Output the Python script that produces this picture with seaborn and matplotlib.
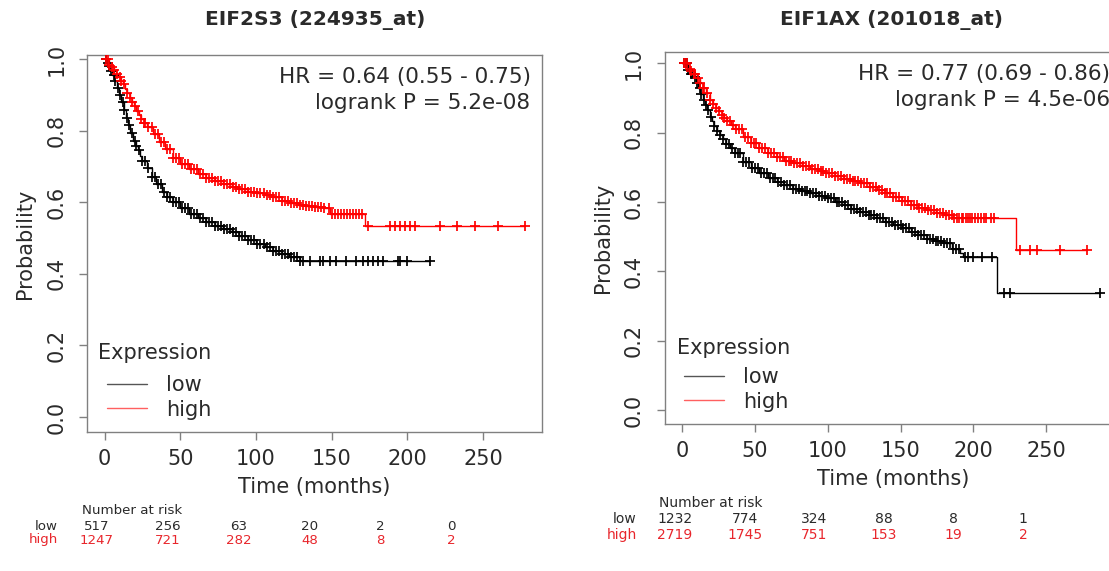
import numpy as np
import pandas as pd
import matplotlib
matplotlib.use("Agg")
import matplotlib.pyplot as plt
import matplotlib.transforms as mtransforms
from matplotlib.lines import Line2D
import seaborn as sns

# ---------------- data ----------------
# EIF2S3 (224935_at)
p1_low_t = [0, 2, 3, 4, 5, 6.5, 8, 9.5, 11, 12.5, 14, 15.5, 17, 19, 20.5, 22, 23.5, 25, 28,
            31, 34, 38, 41, 45, 50, 56, 62, 67, 73, 78, 84, 89, 95, 100, 106, 111, 117, 122,
            129]
p1_low_s = [1.0, 0.99, 0.98, 0.968, 0.955, 0.94, 0.92, 0.90, 0.88, 0.858, 0.836, 0.815, 0.795,
            0.772, 0.758, 0.745, 0.73, 0.716, 0.695, 0.672, 0.65, 0.63, 0.615, 0.60, 0.583,
            0.567, 0.555, 0.544, 0.535, 0.525, 0.516, 0.507, 0.495, 0.484, 0.475, 0.465,
            0.456, 0.447, 0.437]
p1_low_c = [1, 2, 3, 4, 6, 7, 9, 10, 12, 13, 15, 16, 18, 20, 21, 23, 25, 27, 29, 31, 33, 35,
            37, 39, 41, 43, 45, 47, 49, 51, 53, 55, 57, 59, 61, 63, 65, 67, 69, 71, 73, 75, 77,
            79, 81, 83, 85, 87, 89, 91, 93, 95, 97, 99, 101, 103, 105, 107, 109, 111, 113,
            115, 117, 119, 121, 123, 125, 127, 129, 131, 135.6, 142, 144.5, 148.8, 153.2,
            159.8, 166.4, 170.8, 174.1, 177.4, 180.7, 184, 194, 195.3, 199.7, 215]
p1_high_t = [0, 3, 4.5, 6, 7.5, 9, 10.5, 12, 13.5, 15, 16.5, 18, 19.5, 21, 22.5, 24, 26, 28,
             32, 36, 40, 45, 50, 56, 62, 67, 73, 78, 84, 89, 95, 100, 106, 111, 117, 122, 128,
             133, 139, 144, 149, 172]
p1_high_s = [1.0, 0.985, 0.978, 0.97, 0.96, 0.95, 0.94, 0.93, 0.918, 0.905, 0.893, 0.88,
             0.868, 0.855, 0.843, 0.832, 0.821, 0.81, 0.79, 0.77, 0.748, 0.725, 0.708, 0.693,
             0.68, 0.669, 0.66, 0.65, 0.643, 0.637, 0.63, 0.625, 0.62, 0.614, 0.605, 0.597,
             0.593, 0.59, 0.587, 0.584, 0.567, 0.535]
p1_high_c = [1, 2, 3, 5, 6, 8, 10, 11, 13, 15, 17, 18, 20, 22, 24, 26, 27, 29, 31, 33, 35, 37,
             39, 41, 43, 45, 47, 49, 51, 53, 55, 57, 59, 61, 63, 65, 67, 69, 71, 73, 75, 77,
             79, 81, 83, 85, 87, 89, 91, 93, 95, 97, 99, 101, 103, 105, 107, 109, 111, 113,
             115, 117, 119, 121, 123, 125, 127, 129, 131, 133, 135, 137, 139, 141, 143, 145,
             148, 150, 152, 154, 156, 158, 160, 162, 164, 166, 168, 170, 174, 188.5, 191.8,
             195.1, 198.4, 201.7, 205, 221.6, 232.6, 244.7, 260.1, 277.8]

# EIF1AX (201018_at)
p2_low_t = [0, 4, 6, 8, 9.5, 11, 12.5, 14, 15.5, 17, 19, 20.5, 22, 24, 26, 28, 30, 33, 36,
            42, 47, 53, 59, 65, 70, 76, 82, 88, 94, 99, 105, 111, 116, 122, 128, 134, 139,
            145, 151, 157, 162, 168, 174, 180, 185, 191, 193, 216]
p2_low_s = [1.0, 0.98, 0.97, 0.96, 0.945, 0.93, 0.912, 0.894, 0.879, 0.865, 0.846, 0.833,
            0.82, 0.806, 0.793, 0.781, 0.769, 0.755, 0.742, 0.716, 0.698, 0.683, 0.67, 0.659,
            0.648, 0.639, 0.632, 0.625, 0.618, 0.611, 0.601, 0.591, 0.581, 0.572, 0.562,
            0.553, 0.543, 0.534, 0.524, 0.514, 0.505, 0.495, 0.488, 0.481, 0.466, 0.452,
            0.442, 0.337]
p2_low_c = [1, 2, 3, 4, 6, 7, 9, 10, 12, 13, 15, 16, 18, 20, 22, 24, 26, 28, 30, 32, 34, 36,
            38, 40, 42, 44, 46, 48, 50, 52, 54, 56, 58, 60, 62, 64, 66, 68, 70, 72, 74, 76,
            78, 80, 82, 84, 86, 88, 90, 92, 94, 96, 98, 100, 102, 104, 106, 108, 110, 112,
            114, 116, 118, 120, 122, 124, 126, 128, 130, 132, 134, 136, 138, 140, 142, 144,
            146, 148, 150, 152, 154, 156, 158, 160, 162, 164, 166, 168, 170, 172, 174, 176,
            178, 180, 182, 184, 186, 188, 190, 194.4, 196, 200, 206, 212.8, 220.8, 225.4,
            287.3]
p2_high_t = [0, 4, 6, 8, 10, 12, 14, 16, 19, 21, 23, 25, 27, 29, 31, 33.5, 36, 42, 47, 53, 59,
             65, 70, 76, 82, 88, 94, 99, 105, 111, 116, 122, 128, 134, 139, 145, 151, 157,
             162, 168, 174, 180, 186, 229]
p2_high_s = [1.0, 0.985, 0.978, 0.97, 0.958, 0.945, 0.93, 0.915, 0.894, 0.883, 0.872, 0.862,
             0.852, 0.843, 0.834, 0.822, 0.81, 0.788, 0.77, 0.755, 0.742, 0.731, 0.72, 0.712,
             0.704, 0.697, 0.69, 0.683, 0.676, 0.668, 0.661, 0.654, 0.645, 0.635, 0.625,
             0.615, 0.603, 0.591, 0.584, 0.577, 0.57, 0.562, 0.553, 0.462]
p2_high_c = [1, 2, 3, 5, 6, 8, 9, 11, 12, 14, 15, 17, 19, 21, 23, 25, 27, 29, 31, 33, 35, 37,
             39, 41, 43, 45, 47, 49, 51, 53, 55, 57, 59, 61, 63, 65, 67, 69, 71, 73, 75, 77,
             79, 81, 83, 85, 87, 89, 91, 93, 95, 97, 99, 101, 103, 105, 107, 109, 111, 113,
             115, 117, 119, 121, 123, 125, 127, 129, 131, 133, 135, 137, 139, 141, 143, 145,
             147, 149, 151, 153, 155, 157, 159, 161, 163, 165, 167, 169, 171, 173, 175, 177,
             179, 181, 183, 185, 187, 189, 190, 192, 193, 195, 196, 198, 199, 201, 203, 205,
             207, 209, 212, 214, 232, 239, 243.7, 259.7, 278]

titles = ["EIF2S3 (224935_at)", "EIF1AX (201018_at)"]
hr_text = ["HR = 0.64 (0.55 - 0.75)", "HR = 0.77 (0.69 - 0.86)"]
p_text = ["logrank P = 5.2e-08", "logrank P = 4.5e-06"]
risk_times = [0, 50, 100, 150, 200, 250]
p1_risk_low = [517, 256, 63, 20, 2, 0]
p1_risk_high = [1247, 721, 282, 48, 8, 2]
p2_risk_low = [1232, 774, 324, 88, 8, 1]
p2_risk_high = [2719, 1745, 751, 153, 19, 2]

# ---------------- style ----------------
sns.set_theme(style="ticks")
plt.rcParams['font.family'] = ['DejaVu Sans']
GREY = '#808080'
TXT = '#2a2a2a'
RED_TXT = '#e8262c'


def km_frame(times, surv, cens):
    t = list(times) + [max(cens)]
    s = list(surv) + [surv[-1]]
    return pd.DataFrame({'time': t, 'prob': s})


def cens_frame(times, surv, cens):
    idx = np.searchsorted(times, cens, side='right') - 1
    return pd.DataFrame({'time': cens, 'prob': np.asarray(surv)[idx]})


def draw_panel(ax, curves, hr, pval, xlim, ylim, title_pos, leg_anchor):
    for times, surv, cens, col in curves:
        sns.lineplot(data=km_frame(times, surv, cens), x='time', y='prob', color=col,
                     lw=1, drawstyle='steps-post', estimator=None, sort=False, ax=ax)
        sns.scatterplot(data=cens_frame(times, surv, cens), x='time', y='prob', color=col,
                        marker='+', s=46, linewidth=1.25, ax=ax, zorder=3)
    ax.set_xlim(*xlim)
    ax.set_ylim(*ylim)
    ax.set_xticks(risk_times)
    ax.set_yticks([0, 0.2, 0.4, 0.6, 0.8, 1.0])
    ax.set_yticklabels(['0.0', '0.2', '0.4', '0.6', '0.8', '1.0'], rotation=90, va='center')
    for sp in ax.spines.values():
        sp.set_visible(True)
        sp.set_color(GREY)
        sp.set_linewidth(1)
    ax.tick_params(axis='both', colors=GREY, labelcolor=TXT, length=6, width=1,
                   labelsize=15)
    ax.tick_params(axis='x', pad=6)
    ax.tick_params(axis='y', pad=9)
    ax.set_xlabel('Time (months)', fontsize=15, color=TXT, labelpad=6)
    ax.set_ylabel('Probability', fontsize=15, color=TXT, labelpad=8)
    ax.text(0.975, 0.942, hr, transform=ax.transAxes, ha='right', va='center',
            fontsize=15.5, color=TXT)
    ax.text(0.975, 0.872, pval, transform=ax.transAxes, ha='right', va='center',
            fontsize=15.5, color=TXT)
    # legend: title as its own text, handles below it
    ax.text(title_pos[0], title_pos[1], 'Expression', transform=ax.transAxes, ha='left',
            va='center', fontsize=15, color=TXT)
    handles = [Line2D([], [], color='#555555', lw=1), Line2D([], [], color='#ff6060', lw=1)]
    leg = ax.legend(handles, ['low', 'high'], loc='lower left', bbox_to_anchor=leg_anchor,
                    frameon=False, fontsize=15, borderpad=0, labelspacing=0.22,
                    handlelength=1.9, handletextpad=0.95, borderaxespad=0)
    for t in leg.get_texts():
        t.set_color(TXT)


def draw_table(fig, ax_pos, xlim, label_x, head_x, ys, low, high, fs):
    tab = fig.add_axes([ax_pos[0], 0.0, ax_pos[1], 0.01])
    tab.set_xlim(*xlim)
    tab.axis('off')
    tr = mtransforms.blended_transform_factory(tab.transData, fig.transFigure)
    fig.text(head_x, ys[0], 'Number at risk', ha='center', va='center', fontsize=fs,
             color=TXT)
    fig.text(label_x, ys[1], 'low', ha='right', va='center', fontsize=fs, color=TXT)
    fig.text(label_x, ys[2], 'high', ha='right', va='center', fontsize=fs, color=RED_TXT)
    for t, lo, hi in zip(risk_times, low, high):
        tab.text(t, ys[1], str(lo), transform=tr, ha='center', va='center', fontsize=fs,
                 color=TXT)
        tab.text(t, ys[2], str(hi), transform=tr, ha='center', va='center', fontsize=fs,
                 color=RED_TXT)


fig = plt.figure(figsize=(11.09, 5.71), dpi=100)
ax1 = fig.add_axes([0.0785, 0.2434, 0.4102, 0.6603])
ax2 = fig.add_axes([0.5996, 0.2574, 0.4114, 0.6515])

draw_panel(ax1, [(p1_low_t, p1_low_s, p1_low_c, 'black'),
                 (p1_high_t, p1_high_s, p1_high_c, 'red')],
           hr_text[0], p_text[0], (-11.6, 289), (-0.042, 1.012),
           (0.024, 0.2095), (0.044, 0.033))
draw_panel(ax2, [(p2_low_t, p2_low_s, p2_low_c, 'black'),
                 (p2_high_t, p2_high_s, p2_high_c, 'red')],
           hr_text[1], p_text[1], (-11.9, 301.6), (-0.04, 1.033),
           (0.026, 0.204), (0.0416, 0.033))

fig.text(315 / 1109, 1 - 20 / 571, titles[0], ha='center', va='center', fontsize=14.5,
         fontweight='bold', color=TXT)
fig.text(892 / 1109, 1 - 20 / 571, titles[1], ha='center', va='center', fontsize=14.5,
         fontweight='bold', color=TXT)

draw_table(fig, (0.0785, 0.4102), (-7.06, 314.3), 58 / 1109, 132 / 1109,
           (1 - 510 / 571, 1 - 527 / 571, 1 - 540 / 571), p1_risk_low, p1_risk_high, 9.6)
draw_table(fig, (0.5996, 0.4114), (-7.2, 320.4), 637 / 1109, 711 / 1109,
           (1 - 503 / 571, 1 - 519 / 571, 1 - 535 / 571), p2_risk_low, p2_risk_high, 10)

fig.savefig('out.png', dpi=100)
